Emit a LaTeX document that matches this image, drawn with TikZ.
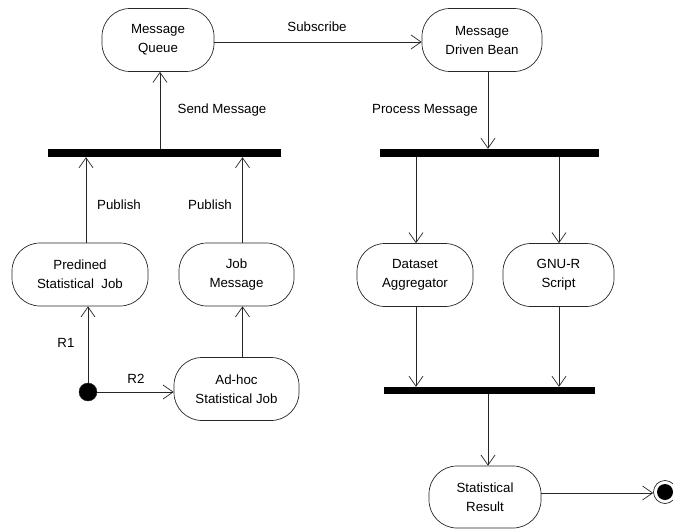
\documentclass[tikz,border=0pt]{standalone}
\usepackage{fontspec}
\setmainfont{Liberation Sans}
\usetikzlibrary{arrows.meta}
\begin{document}
\begin{tikzpicture}[x=1pt,y=-1pt,
  act/.style={draw=black!85, line width=0.7pt, rounded corners=28pt, fill=white,
    align=center, inner sep=0pt, font=\fontsize{13.3}{19}\selectfont, minimum height=63pt},
  bar/.style={fill=black, inner sep=0pt, minimum height=8pt},
  arr/.style={draw=black!85, line width=0.7pt, -{Straight Barb[length=10pt,width=14pt,line width=0.7pt]}},
  lbl/.style={font=\fontsize{13.3}{15}\selectfont, inner sep=0pt},
]
\useasboundingbox (0,0) rectangle (673,530);
% activities
\node[act, minimum width=112pt] (mq) at (158,40) {Message\\Queue};
\node[act, minimum width=120pt] (mdb) at (482,40) {Message\\Driven Bean};
\node[act, minimum width=136pt] (pj) at (80,274.5) {Predined\\Statistical~ Job};
\node[act, minimum width=115pt] (jm) at (236.5,274.5) {Job\\Message};
\node[act, minimum width=125pt] (ah) at (236.5,389) {Ad-hoc\\Statistical Job};
\node[act, minimum width=116pt] (da) at (415,275) {Dataset\\Aggregator};
\node[act, minimum width=111pt] (gnu) at (558.5,275) {GNU-R\\Script};
\node[act, minimum width=112pt, minimum height=62pt] (sr) at (485,497) {Statistical\\Result};
% bars
\node[bar, minimum width=233pt] (bar1) at (164.5,153) {};
\node[bar, minimum width=219pt] (bar2) at (489.5,153) {};
\node[bar, minimum width=211pt, minimum height=7pt] (bar3) at (489.5,390.5) {};
% initial / final
\node[circle, fill=black, draw=black!85, minimum size=18pt, inner sep=0pt] (init) at (88,392) {};
\node[circle, draw=black!85, line width=0.7pt, fill=white, minimum size=23pt, inner sep=0pt] (fin) at (665,492) {};
\node[circle, fill=black, minimum size=16pt, inner sep=0pt] (finin) at (fin.center) {};
% connectors
\draw[arr] (mq.east |- 0,42) -- (mdb.west |- 0,42);
\node[lbl] (lsub) at (317,27) {Subscribe};
\draw[arr] ([xshift=2pt]bar1.north -| mq) -- ([xshift=2pt]mq.south);
\node[lbl] (lsend) at (222,110) {Send Message};
\draw[arr] ([xshift=6pt]mdb.south) -- ([xshift=6pt]mdb.south |- bar2.north);
\node[lbl] (lproc) at (425,110) {Process Message};
\draw[arr] ([xshift=6pt]pj.north) -- ([xshift=6pt]pj.north |- bar1.south);
\node[lbl] (lpub1) at (119,205) {Publish};
\draw[arr] ([xshift=6pt]jm.north) -- ([xshift=6pt]jm.north |- bar1.south);
\node[lbl] (lpub2) at (210,205) {Publish};
\draw[arr] (init.north) -- (init.north |- pj.south);
\node[lbl] (lr1) at (66,343) {R1};
\draw[arr] (init.east) -- (ah.west |- init.east);
\node[lbl] (lr2) at (136,379) {R2};
\draw[arr] ([xshift=6pt]ah.north) -- ([xshift=6pt]jm.south);
\draw[arr] ([xshift=1pt]da.north |- bar2.south) -- ([xshift=1pt]da.north);
\draw[arr] ([xshift=0.5pt]gnu.north |- bar2.south) -- ([xshift=0.5pt]gnu.north);
\draw[arr] ([xshift=1pt]da.south) -- ([xshift=1pt]da.south |- bar3.north);
\draw[arr] ([xshift=0.5pt]gnu.south) -- ([xshift=0.5pt]gnu.south |- bar3.north);
\draw[arr] ([xshift=-1.5pt]bar3.south) -- ([xshift=-1.5pt]bar3.south |- sr.north);
\draw[arr] (sr.east |- 0,493) -- (fin.west |- 0,493);
\end{tikzpicture}
\end{document}
